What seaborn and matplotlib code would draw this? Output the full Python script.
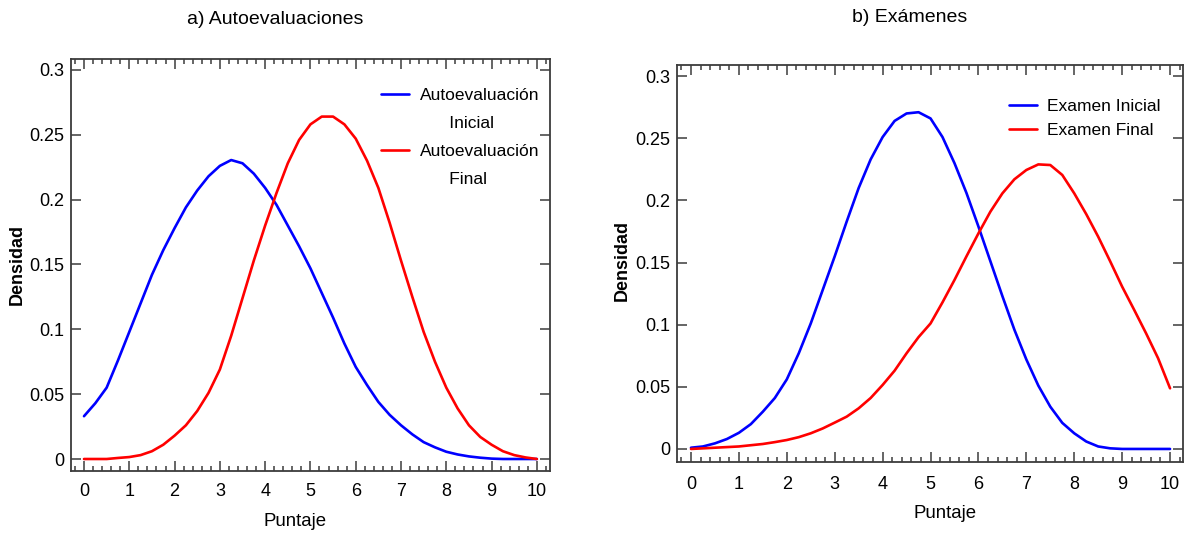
import matplotlib

matplotlib.use("Agg")

import matplotlib.pyplot as plt
import pandas as pd
import seaborn as sns
from matplotlib.lines import Line2D
from matplotlib.ticker import MultipleLocator

# puntaje grid (0 to 10, step 0.25)
PUNTAJE = [i * 0.25 for i in range(41)]

# a) Autoevaluaciones
AUTO_INICIAL = [
    0.033, 0.043, 0.055, 0.076, 0.098, 0.120, 0.142, 0.161, 0.178, 0.194,
    0.207, 0.218, 0.226, 0.2305, 0.228, 0.220, 0.209, 0.196, 0.180, 0.164,
    0.147, 0.128, 0.109, 0.089, 0.071, 0.057, 0.044, 0.034, 0.026, 0.019,
    0.013, 0.009, 0.0056, 0.0035, 0.002, 0.001, 0.0003, 0.0, 0.0, 0.0, 0.0,
]
AUTO_FINAL = [
    0.0, 0.0, 0.0, 0.0008, 0.0015, 0.003, 0.006, 0.011, 0.018, 0.026,
    0.037, 0.051, 0.069, 0.095, 0.124, 0.153, 0.180, 0.205, 0.228, 0.246,
    0.258, 0.264, 0.264, 0.258, 0.247, 0.230, 0.209, 0.182, 0.153, 0.125,
    0.098, 0.075, 0.055, 0.039, 0.026, 0.017, 0.011, 0.006, 0.003, 0.0012, 0.0,
]

# b) Exámenes
EXAM_INICIAL = [
    0.001, 0.002, 0.0045, 0.008, 0.013, 0.020, 0.030, 0.041, 0.056, 0.077,
    0.101, 0.128, 0.155, 0.183, 0.210, 0.233, 0.251, 0.264, 0.270, 0.271,
    0.266, 0.251, 0.230, 0.206, 0.179, 0.151, 0.123, 0.096, 0.072, 0.051,
    0.034, 0.021, 0.0126, 0.006, 0.002, 0.0005, 0.0, 0.0, 0.0, 0.0, 0.0,
]
EXAM_FINAL = [
    0.0, 0.0005, 0.001, 0.0015, 0.002, 0.003, 0.004, 0.0055, 0.0072, 0.0095,
    0.0126, 0.0165, 0.0212, 0.026, 0.0327, 0.041, 0.0515, 0.063, 0.077, 0.090,
    0.101, 0.118, 0.136, 0.155, 0.1735, 0.191, 0.2057, 0.217, 0.2245, 0.229,
    0.2285, 0.2205, 0.2057, 0.189, 0.1708, 0.151, 0.1306, 0.112, 0.093, 0.073, 0.0488,
]

Y_TICKS = [0, 0.05, 0.1, 0.15, 0.2, 0.25, 0.3]
Y_TICK_LABELS = ["0", "0.05", "0.1", "0.15", "0.2", "0.25", "0.3"]
X_TICKS = list(range(11))

BLUE = "#0000ff"
RED = "#ff0000"
FRAME = "#3c3c3c"
FONT = ["Liberation Sans", "DejaVu Sans"]


def long_frame(inicial, final, names):
    return pd.DataFrame(
        {
            "Puntaje": PUNTAJE * 2,
            "Densidad": inicial + final,
            "serie": [names[0]] * len(PUNTAJE) + [names[1]] * len(PUNTAJE),
        }
    )


def style_axis(ax, xlim, ylim, xpad):
    ax.set_xlim(*xlim)
    ax.set_ylim(*ylim)
    ax.set_xticks(X_TICKS)
    ax.xaxis.set_minor_locator(MultipleLocator(0.2))
    ax.set_yticks(Y_TICKS)
    ax.set_yticklabels(Y_TICK_LABELS)
    ax.tick_params(
        axis="both", which="both", direction="in", color=FRAME,
        top=True, right=True, labelsize=13, width=1.1, labelcolor="black",
    )
    ax.tick_params(axis="x", which="major", length=7, pad=xpad)
    ax.tick_params(axis="x", which="minor", length=3.5)
    ax.tick_params(axis="y", which="major", length=7, pad=5)
    ax.tick_params(axis="y", which="minor", length=0)
    for spine in ax.spines.values():
        spine.set_color(FRAME)
        spine.set_linewidth(1.3)
    ax.set_xlabel("")
    ax.set_ylabel("")
    ax.grid(False)


def draw_panel(ax, data, names):
    sns.lineplot(
        data=data, x="Puntaje", y="Densidad", hue="serie", hue_order=names,
        palette=[BLUE, RED], linewidth=1.9, legend=False, ax=ax,
    )


sns.set_theme(style="ticks")
plt.rcParams["font.family"] = FONT
plt.rcParams["text.color"] = "black"

fig = plt.figure(figsize=(11.89, 5.35), dpi=100)
W, H = 1189, 535


def axes_at(x0, y0, x1, y1):
    return fig.add_axes([x0 / W, 1 - y1 / H, (x1 - x0) / W, (y1 - y0) / H])


# left panel
ax_a = axes_at(71, 59, 550, 471)
names_a = ["Autoevaluación Inicial", "Autoevaluación Final"]
draw_panel(ax_a, long_frame(AUTO_INICIAL, AUTO_FINAL, names_a), names_a)
style_axis(ax_a, (-0.287, 10.29), (-0.00925, 0.3084), 9)
# the long labels wrap onto a second line under the first one
blank = Line2D([], [], color="none")
ax_a.legend(
    [Line2D([], [], color=BLUE, lw=1.9), blank, Line2D([], [], color=RED, lw=1.9), blank],
    ["Autoevaluación", "      Inicial", "Autoevaluación", "      Final"],
    loc="upper left", bbox_to_anchor=(0.648, 0.931),
    frameon=False, fontsize=12.5, handlelength=1.6, handletextpad=0.6,
    labelspacing=0.75, borderpad=0, borderaxespad=0,
)

# right panel
ax_b = axes_at(677, 65, 1183, 462)
names_b = ["Examen Inicial", "Examen Final"]
draw_panel(ax_b, long_frame(EXAM_INICIAL, EXAM_FINAL, names_b), names_b)
style_axis(ax_b, (-0.292, 10.27), (-0.0105, 0.309), 10)
ax_b.legend(
    [Line2D([], [], color=BLUE, lw=1.9), Line2D([], [], color=RED, lw=1.9)], names_b,
    loc="upper left", bbox_to_anchor=(0.656, 0.914),
    frameon=False, fontsize=12.5, handlelength=1.6, handletextpad=0.6,
    labelspacing=0.52, borderpad=0, borderaxespad=0,
)

# titles and axis labels
fig.text(275 / W, 1 - 20 / H, "a) Autoevaluaciones", ha="center", va="center", fontsize=14)
fig.text(910 / W, 1 - 18 / H, "b) Exámenes", ha="center", va="center", fontsize=14)
fig.text(295 / W, 1 - 522 / H, "Puntaje", ha="center", va="center", fontsize=13.4)
fig.text(945 / W, 1 - 514 / H, "Puntaje", ha="center", va="center", fontsize=13.4)
fig.text(17 / W, 1 - 265 / H, "Densidad", ha="center", va="center", rotation=90,
         fontsize=13, fontweight="bold")
fig.text(622 / W, 1 - 260 / H, "Densidad", ha="center", va="center", rotation=90,
         fontsize=13, fontweight="bold")

fig.savefig("out.png", dpi=100)
